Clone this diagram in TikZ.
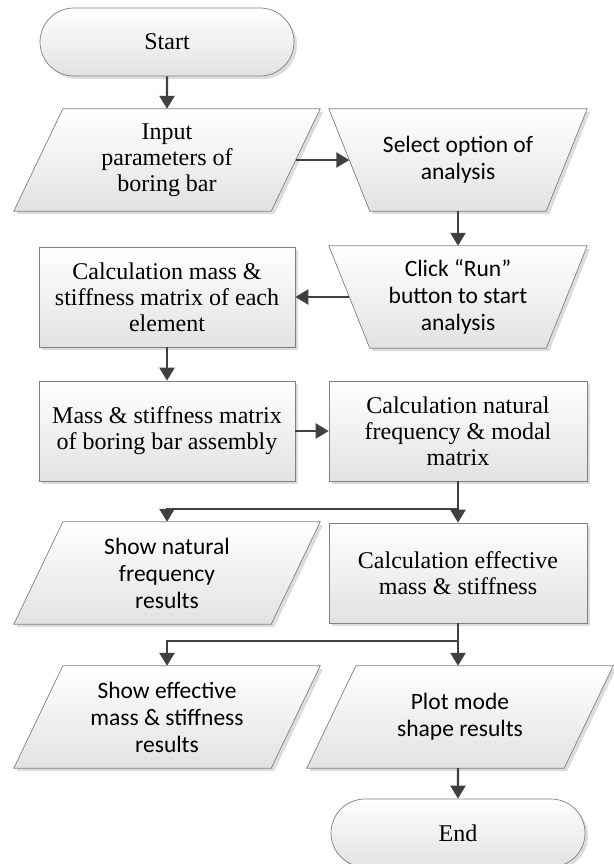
\documentclass[tikz,border=0pt]{standalone}
\usepackage{fontspec}
\setmainfont{Liberation Serif}
\newfontfamily\calib{Carlito}
\definecolor{linegray}{RGB}{64,64,64}
\definecolor{bordergray}{RGB}{128,128,128}
\definecolor{shadegray}{RGB}{226,226,226}
\usetikzlibrary{arrows.meta,shapes.misc,shadows,backgrounds}
\tikzstyle{boxfill}=[draw=bordergray, line width=0.7pt, top color=white, bottom color=shadegray, drop shadow={shadow xshift=3pt, shadow yshift=-3pt, fill=black!30, opacity=0.45}]
\tikzstyle{base}=[boxfill, align=center, font=\fontsize{24}{26}\selectfont, inner sep=2pt]
\tikzstyle{terminal}=[base, rounded rectangle, minimum width=258pt, minimum height=68pt]
\tikzstyle{process}=[base, rectangle, minimum width=256pt, minimum height=100pt]
\tikzstyle{iotext}=[rectangle, align=center, inner sep=2pt, minimum width=257pt, minimum height=102pt, font=\calib\fontsize{23.5}{27}\selectfont]
\tikzstyle{mantext}=[iotext, minimum width=217pt]
\tikzstyle{serifio}=[iotext, font=\fontsize{24}{26}\selectfont]
\tikzstyle{dedge} = [draw, line width=2.4pt, color=linegray, -{Triangle[width=15pt,length=13pt]}]

\begin{document}
\begin{tikzpicture}[x=1pt,y=-1pt]
                    \node[terminal] (start) at (167,42) {Start};
                    \node[serifio] (input) at (167,160) {Input\\parameters of\\boring bar};
                    \node[mantext] (select) at (458,160) {Select option of\\analysis};
                    \node[mantext] (click) at (458,297) {Click “Run”\\button to start\\analysis};
                    \node[process] (calcmass) at (167,297) {Calculation mass \&\\stiffness matrix of each\\element};
                    \node[process] (mass) at (167,431) {Mass \& stiffness matrix\\of boring bar assembly};
                    \node[process, minimum width=258pt] (natfreq) at (458,431) {Calculation natural\\frequency \& modal\\matrix};
                    \node[iotext] (shownat) at (167,573) {Show natural\\frequency\\results};
                    \node[process, minimum width=258pt] (effective) at (458,573) {Calculation effective\\mass \& stiffness};
                    \node[iotext] (showeff) at (167,717) {Show effective\\mass \& stiffness\\results};
                    \node[iotext] (plot) at (460,717) {Plot mode\\shape results};
                    \node[terminal] (end) at (458,833) {End};

                    \begin{pgfonlayer}{background}
                    \foreach \n in {input,shownat,showeff,plot}
                        \path[boxfill] ([xshift=24.5pt]\n.north west) -- ([xshift=24.5pt]\n.north east)
                            -- ([xshift=-24.5pt]\n.south east) -- ([xshift=-24.5pt]\n.south west) -- cycle;
                    \foreach \n in {select,click}
                        \path[boxfill] ([xshift=-20.5pt]\n.north west) -- ([xshift=20.5pt]\n.north east)
                            -- ([xshift=-20.5pt]\n.south east) -- ([xshift=20.5pt]\n.south west) -- cycle;
                    \end{pgfonlayer}

                    \coordinate (split1) at (458,509);
                    \coordinate (split2) at (458,641);

                    \path[dedge] (start) -- (input);
                    \path[dedge] (input) -- (select);
                    \path[dedge] (select) -- (click);
                    \path[dedge] (click) -- (calcmass);
                    \path[dedge] (calcmass) -- (mass);
                    \path[dedge] (mass) -- (natfreq);
                    \path[dedge] (natfreq) -- (effective);
                    \path[dedge] (split1) -| (shownat.north);
                    \path[dedge] (effective) -- (plot.north -| effective);
                    \path[dedge] (split2) -| (showeff.north);
                    \path[dedge] (plot.south -| end) -- (end);

                    \pgfresetboundingbox
                    \path [use as bounding box] (0,0) rectangle (613,864);
                \end{tikzpicture}
\end{document}
